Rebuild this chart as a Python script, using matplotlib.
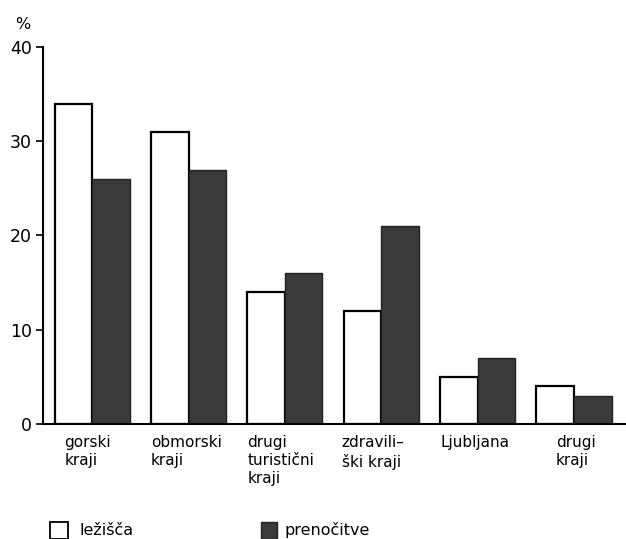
import numpy as np
import matplotlib.pyplot as plt

# podatki (odčitano s slike)
kategorije = ['gorski\nkraji', 'obmorski\nkraji', 'drugi\nturistični\nkraji',
              'zdravili–\nški kraji', 'Ljubljana', 'drugi\nkraji']
lezisca = [34, 31, 14, 12, 5, 4]
prenocitve = [26, 27, 16, 21, 7, 3]
y_ticks = [0, 10, 20, 30, 40]

# zamiki oznak glede na levi rob bele palice (v enotah skupin)
label_shift = [0.10, 0.0, 0.0, -0.02, 0.0, 0.20]

plt.rcParams['font.family'] = ['DejaVu Sans']

fig = plt.figure(figsize=(6.26, 5.39), dpi=100)
ax = fig.add_axes([0.0687, 0.2134, 0.9313, 0.6994])

x = np.arange(len(kategorije))
w = 0.39
ax.bar(x - w, lezisca, width=w, align='edge', color='white', edgecolor='black', linewidth=1.6)
ax.bar(x, prenocitve, width=w, align='edge', color='#3a3a3a', edgecolor='#222222', linewidth=1.0)

ax.set_xlim(-0.51, 5.54)
ax.set_ylim(0, 40)
ax.set_yticks(y_ticks)
ax.set_yticklabels([str(t) for t in y_ticks], fontsize=12.5)
ax.tick_params(axis='y', direction='out', length=5, width=1.2, pad=3)
ax.set_xticks([])

for s in ['top', 'right']:
    ax.spines[s].set_visible(False)
ax.spines['left'].set_linewidth(1.5)
ax.spines['bottom'].set_linewidth(1.5)

for i, lab in enumerate(kategorije):
    ax.text(i - w + label_shift[i], -0.03, lab, transform=ax.get_xaxis_transform(),
            ha='left', va='top', fontsize=11, linespacing=1.25)

fig.text(0.024, 0.955, '%', fontsize=11.5, ha='left', va='center')

# legenda
fig.patches.append(plt.Rectangle((0.080, 0.0), 0.028, 0.032, transform=fig.transFigure,
                                 facecolor='white', edgecolor='black', linewidth=1.3))
fig.text(0.127, 0.016, 'ležišča', fontsize=11.5, ha='left', va='center')
fig.patches.append(plt.Rectangle((0.417, 0.0), 0.026, 0.032, transform=fig.transFigure,
                                 facecolor='#3a3a3a', edgecolor='#222222', linewidth=1.0))
fig.text(0.455, 0.016, 'prenočitve', fontsize=11.5, ha='left', va='center')

fig.savefig('out.png', dpi=100)
